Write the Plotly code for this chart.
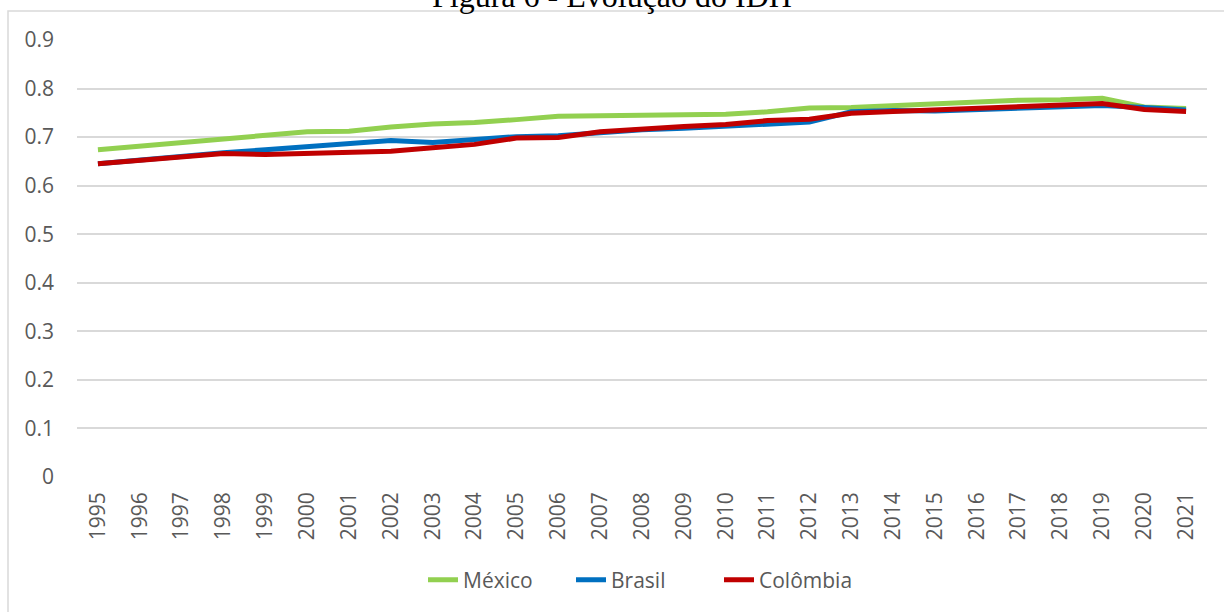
import plotly.graph_objects as go

anos = [str(a) for a in range(1995, 2022)]

mexico = [0.674, 0.681, 0.689, 0.697, 0.702, 0.711, 0.712, 0.721, 0.727, 0.730,
          0.736, 0.743, 0.744, 0.745, 0.745, 0.747, 0.752, 0.760, 0.761, 0.765,
          0.769, 0.773, 0.776, 0.777, 0.780, 0.762, 0.759]
brasil = [0.645, 0.653, 0.660, 0.668, 0.674, 0.681, 0.688, 0.693, 0.689, 0.695,
          0.701, 0.703, 0.709, 0.715, 0.718, 0.722, 0.727, 0.731, 0.752, 0.755,
          0.754, 0.757, 0.761, 0.764, 0.765, 0.761, 0.756]
colombia = [0.645, 0.652, 0.659, 0.666, 0.664, 0.667, 0.669, 0.671, 0.678, 0.685,
            0.698, 0.699, 0.711, 0.717, 0.722, 0.726, 0.734, 0.737, 0.749, 0.753,
            0.756, 0.760, 0.762, 0.765, 0.769, 0.757, 0.753]

series = [("México", mexico, "#92D050"),
          ("Brasil", brasil, "#0070C0"),
          ("Colômbia", colombia, "#C00000")]

fig = go.Figure()
for nome, valores, cor in series:
    fig.add_trace(go.Scatter(x=anos, y=valores, name=nome, mode="lines",
                             line=dict(color=cor, width=5)))

# plot-area geometry in pixels (used to place the frame and title)
L, R, T, B = 77, 17, 40, 135
W, H = 1224 - L - R, 612 - T - B


def px_x(p):
    return (p - L) / W


def px_y(p):
    return (612 - B - p) / H


fig.update_layout(
    width=1224, height=612,
    margin=dict(l=L, r=R, t=T, b=B),
    paper_bgcolor="white", plot_bgcolor="white",
    font=dict(family="Open Sans", size=21, color="#595959"),
    showlegend=True,
    legend=dict(orientation="h", x=px_x(423), xanchor="left",
                y=px_y(580), yanchor="middle",
                font=dict(size=21, color="#595959"),
                entrywidth=103, entrywidthmode="pixels",
                itemwidth=30, tracegroupgap=0),
    xaxis=dict(type="category", range=[-0.5, len(anos) - 0.5],
               showgrid=False, showline=False, ticks="",
               tickangle=-90, tickfont=dict(size=21), ticklabelstandoff=10,
               fixedrange=True),
    yaxis=dict(range=[0, 0.9], dtick=0.1, tick0=0, showgrid=True,
               gridcolor="#D9D9D9", gridwidth=1.5, zeroline=False,
               showline=False, ticks="", tickfont=dict(size=21),
               ticklabelstandoff=22, tickformat="~g"),
    annotations=[dict(text="Figura 6 - Evolução do IDH", xref="paper",
                      yref="paper", x=px_x(612), y=px_y(16),
                      xanchor="center", yanchor="bottom", showarrow=False,
                      font=dict(family="Liberation Serif", size=32,
                                color="black"))],
    shapes=[dict(type="rect", xref="paper", yref="paper",
                 x0=px_x(8), x1=px_x(1240), y0=px_y(630), y1=px_y(11),
                 line=dict(color="#D9D9D9", width=1.5), layer="below")],
)

fig.write_html("out.html")
